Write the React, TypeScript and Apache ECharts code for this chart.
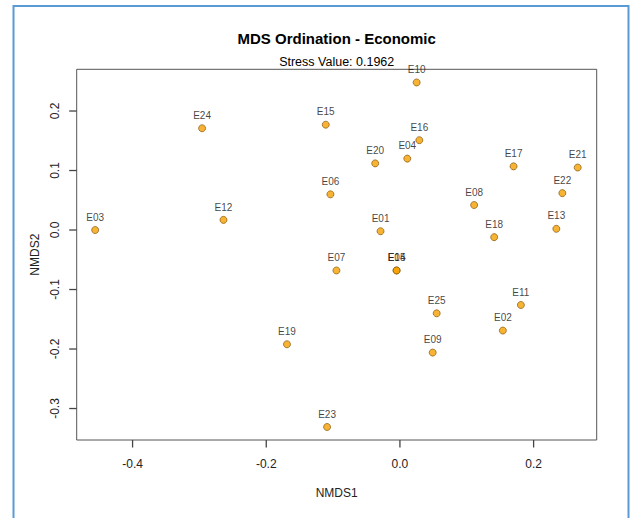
import React, { useEffect, useRef } from "react";
import * as echarts from "echarts";

const sites = ["E01","E02","E03","E04","E05","E06","E07","E08","E09","E10","E11","E12","E13","E14","E15","E16","E17","E18","E19","E20","E21","E22","E23","E24","E25"];
const nmds1 = [-0.029, 0.154, -0.456, 0.011, -0.005, -0.104, -0.095, 0.111, 0.049, 0.025, 0.181, -0.264, 0.234, -0.005, -0.111, 0.029, 0.170, 0.141, -0.169, -0.037, 0.266, 0.243, -0.109, -0.296, 0.055];
const nmds2 = [-0.002, -0.169, 0.000, 0.120, -0.068, 0.060, -0.068, 0.042, -0.206, 0.248, -0.126, 0.017, 0.002, -0.068, 0.177, 0.151, 0.107, -0.012, -0.192, 0.112, 0.105, 0.062, -0.331, 0.171, -0.140];
const xTicks = [-0.4, -0.2, 0.0, 0.2];
const yTicks = [-0.3, -0.2, -0.1, 0.0, 0.1, 0.2];
const xRange = [-0.4836, 0.2944];
const yRange = [-0.3529, 0.2701];

const FONT = "Liberation Sans, Arial, Helvetica, sans-serif";
const TICK_LEN = 7.5;

export default function App() {
  const ref = useRef<HTMLDivElement>(null);
  useEffect(() => {
    if (!ref.current) return;
    const chart = echarts.init(ref.current, null, { renderer: "svg" });
    const data = sites.map((s, i) => ({ name: s, value: [nmds1[i], nmds2[i]] }));
    const baseGraphics: any[] = [
      {
        type: "rect", shape: { x: 13.5, y: 6, width: 615, height: 530 },
        style: { fill: "none", stroke: "#5b9bd5", lineWidth: 2 }, silent: true,
      },
      {
        type: "text", x: 336.7, y: 38,
        style: { text: "MDS Ordination - Economic", align: "center", verticalAlign: "middle", font: `bold 15px ${FONT}`, fill: "#000" },
      },
      {
        type: "text", x: 336.7, y: 61.5,
        style: { text: "Stress Value: 0.1962", align: "center", verticalAlign: "middle", font: `12.5px ${FONT}`, fill: "#000" },
      },
    ];
    chart.setOption({
      animation: false,
      backgroundColor: "#fff",
      textStyle: { fontFamily: FONT },
      grid: {
        left: 76.7, right: 38.3, top: 69.3, bottom: 78,
        show: true, borderColor: "#555", borderWidth: 1, backgroundColor: "transparent",
      },
      xAxis: {
        type: "value",
        min: xRange[0], max: xRange[1],
        position: "bottom",
        splitLine: { show: false },
        axisLine: { show: false, onZero: false },
        axisTick: { show: false },
        axisLabel: {
          show: true, customValues: xTicks, margin: 18, fontSize: 12, color: "#222", fontFamily: FONT,
          formatter: (v: number) => v.toFixed(1),
        },
        name: "NMDS1", nameLocation: "middle", nameGap: 47,
        nameTextStyle: { fontSize: 12, color: "#222", fontFamily: FONT },
      },
      yAxis: {
        type: "value",
        min: yRange[0], max: yRange[1],
        position: "left",
        splitLine: { show: false },
        axisLine: { show: false, onZero: false },
        axisTick: { show: false },
        axisLabel: {
          show: true, customValues: yTicks, rotate: 90, margin: 16, fontSize: 12, color: "#222", fontFamily: FONT,
          formatter: (v: number) => v.toFixed(1),
        },
        name: "NMDS2", nameLocation: "middle", nameGap: 31,
        nameTextStyle: { fontSize: 12, color: "#222", fontFamily: FONT },
      },
      graphic: baseGraphics,
      series: [
        {
          type: "scatter",
          data,
          symbol: "circle",
          symbolSize: 7,
          itemStyle: { color: "#f5a000", borderColor: "#7a4a00", borderWidth: 0.8 },
          label: {
            show: true, position: "top", distance: 4, fontSize: 10, color: "#111", fontFamily: FONT,
            formatter: (p: any) => p.name,
          },
          labelLayout: { hideOverlap: false },
        },
      ],
    });
    const tickLines: any[] = [];
    xTicks.forEach((v) => {
      const p = chart.convertToPixel({ xAxisIndex: 0, yAxisIndex: 0 } as any, [v, yRange[0]]) as number[];
      tickLines.push({
        type: "line", z: 100, silent: true,
        shape: { x1: p[0], y1: p[1], x2: p[0], y2: p[1] + TICK_LEN },
        style: { stroke: "#444", lineWidth: 1.3 },
      });
    });
    yTicks.forEach((v) => {
      const p = chart.convertToPixel({ xAxisIndex: 0, yAxisIndex: 0 } as any, [xRange[0], v]) as number[];
      tickLines.push({
        type: "line", z: 100, silent: true,
        shape: { x1: p[0], y1: p[1], x2: p[0] - TICK_LEN, y2: p[1] },
        style: { stroke: "#444", lineWidth: 1.3 },
      });
    });
    chart.setOption({ graphic: [...baseGraphics, ...tickLines] });
    return () => chart.dispose();
  }, []);
  return <div ref={ref} style={{ position: "fixed", left: 0, top: 0, width: 635, height: 518 }} />;
}
